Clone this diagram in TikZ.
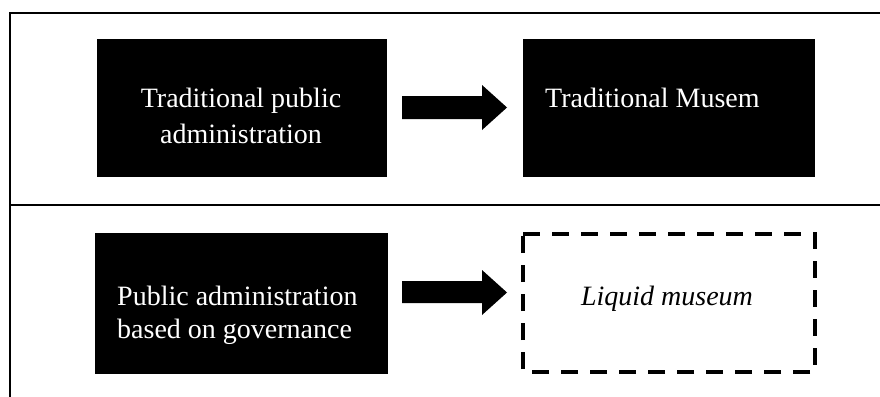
\documentclass[tikz,border=0pt]{standalone}
\usepackage{fontspec}
\setmainfont{Liberation Serif}
\begin{document}
\begin{tikzpicture}[x=1pt,y=-1pt,
  blackbox/.style={fill=black,draw=none},
  dashbox/.style={draw=black,line width=3.6pt,dash pattern=on 17pt off 12pt},
  boxtext/.style={text=white,font=\fontsize{28}{36}\selectfont,inner sep=0pt,anchor=base},
  darktext/.style={text=black,font=\fontsize{28}{36}\selectfont\itshape,inner sep=0pt,anchor=base},
  blockarrow/.style={fill=black,draw=none}]
\useasboundingbox (0,0) rectangle (880,396);
\clip (0,0) rectangle (880,396);
% frame
\draw[line width=2pt] (10,13) rectangle (900,420);
\draw[line width=2pt] (10,205) -- (900,205);
% boxes
\fill[blackbox] (97,39) rectangle (387,177);
\fill[blackbox] (523,39) rectangle (815,177);
\fill[blackbox] (95,233) rectangle (388,374);
\draw[dashbox] (523,234) -- (815,234) -- (815,372) -- (523,372) -- cycle;
% texts
\node[boxtext] (t1a) at (241,107) {Traditional public};
\node[boxtext] (t1b) at (241,143.5) {administration};
\node[boxtext,anchor=base west] (t2) at (545,107) {Traditional Musem};
\node[boxtext,anchor=base west] (t3a) at (117,305) {Public administration};
\node[boxtext,anchor=base west] (t3b) at (117,338) {based on governance};
\node[darktext] (t4) at (667,305) {Liquid museum};
% arrows
\fill[blockarrow] (402,96) -- (482,96) -- (482,85) -- (507,107.5) -- (482,130) -- (482,119) -- (402,119) -- cycle;
\fill[blockarrow] (402,281) -- (482,281) -- (482,270) -- (507,292.5) -- (482,315) -- (482,303) -- (402,303) -- cycle;
\end{tikzpicture}
\end{document}
